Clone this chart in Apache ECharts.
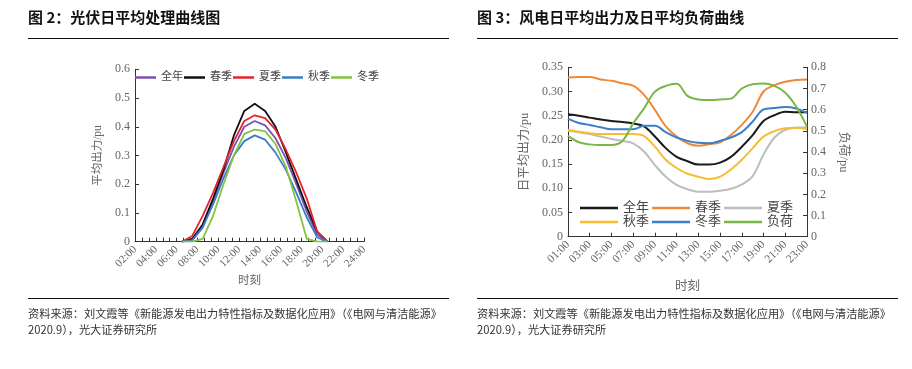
<!DOCTYPE html>
<html><head><meta charset="utf-8">
<script src="https://cdn.jsdelivr.net/npm/echarts@6/dist/echarts.min.js"></script>
<style>
html,body{margin:0;padding:0;background:#fff}
#wrap{position:relative;width:912px;height:369px;overflow:hidden}
#left{position:absolute;left:0;top:0;width:456px;height:369px}
#right{position:absolute;left:456px;top:0;width:456px;height:369px}
</style>
</head><body><div id="wrap"><div id="left"></div><div id="right"></div></div>
<script>
// ---- Figure 2 data (PV daily average output, pu) ----
const pvTitle = '图 2：光伏日平均处理曲线图';
const pvHours = [6.5, 7.5, 8.5, 9.5, 10.5, 11.5, 12.5, 13.5, 14.5, 15.5, 16.5, 17.5, 18.5, 19.5, 20.5];
const pvYear   = [0, 0.005, 0.05, 0.14, 0.24, 0.33, 0.40, 0.42, 0.405, 0.36, 0.29, 0.20, 0.105, 0.025, 0];
const pvSpring = [0, 0.01, 0.06, 0.15, 0.25, 0.37, 0.455, 0.48, 0.455, 0.40, 0.31, 0.215, 0.12, 0.035, 0];
const pvSummer = [0, 0.02, 0.09, 0.17, 0.26, 0.35, 0.42, 0.44, 0.43, 0.39, 0.32, 0.24, 0.15, 0.035, 0];
const pvAutumn = [0, 0.005, 0.05, 0.13, 0.22, 0.30, 0.35, 0.37, 0.355, 0.31, 0.25, 0.17, 0.085, 0.015, 0];
const pvWinter = [0, 0, 0.01, 0.09, 0.20, 0.30, 0.375, 0.39, 0.385, 0.34, 0.26, 0.14, 0.01, 0, 0];
const pvTickLabels = {min: 2, max: 24, step: 2};

// ---- Figure 3 data (wind daily average output & load, pu) ----
const windTitle = '图 3：风电日平均出力及日平均负荷曲线';
const windTimes = ['01:00','02:00','03:00','04:00','05:00','06:00','07:00','08:00','09:00','10:00','11:00','12:00',
                   '13:00','14:00','15:00','16:00','17:00','18:00','19:00','20:00','21:00','22:00','23:00'];
const windYear   = [0.253,0.250,0.246,0.242,0.239,0.237,0.234,0.228,0.207,0.183,0.165,0.156,0.149,0.149,0.153,0.165,0.186,0.210,0.239,0.251,0.258,0.257,0.257];
const windSpring = [0.329,0.330,0.330,0.325,0.322,0.317,0.312,0.293,0.262,0.228,0.207,0.193,0.188,0.191,0.195,0.210,0.231,0.258,0.300,0.313,0.320,0.324,0.325];
const windSummer = [0.219,0.216,0.212,0.207,0.202,0.198,0.193,0.176,0.148,0.124,0.107,0.098,0.093,0.093,0.095,0.099,0.108,0.125,0.170,0.205,0.221,0.225,0.226];
const windAutumn = [0.221,0.217,0.214,0.212,0.212,0.212,0.212,0.208,0.186,0.159,0.142,0.130,0.124,0.119,0.124,0.139,0.159,0.183,0.207,0.218,0.224,0.225,0.222];
const windWinter = [0.244,0.235,0.231,0.226,0.222,0.222,0.222,0.229,0.229,0.216,0.205,0.198,0.194,0.193,0.198,0.205,0.216,0.238,0.263,0.266,0.268,0.265,0.256];
const loadCurve  = [0.476,0.446,0.436,0.433,0.433,0.452,0.535,0.606,0.685,0.712,0.722,0.665,0.648,0.645,0.648,0.652,0.700,0.720,0.723,0.712,0.680,0.615,0.520];

const sourceLine1 = '资料来源：刘文霞等《新能源发电出力特性指标及数据化应用》（《电网与清洁能源》';
const sourceLine2 = '2020.9），光大证券研究所';

const SERIF = "'Liberation Serif','Noto Sans CJK SC',serif";
const SANS = "'Noto Sans CJK SC','Noto Sans',sans-serif";
const AXC = '#333';
const LBC = '#666';

function frame(x0, x1, title) {
  return [
    {type:'text', left:x0, top:10, style:{text:title, font:"bold 15px "+SANS, fill:'#111'}},
    {type:'line', shape:{x1:x0, y1:38.5, x2:x1, y2:38.5}, style:{stroke:'#111', lineWidth:1.2}},
    {type:'line', shape:{x1:x0, y1:298.5, x2:x1, y2:298.5}, style:{stroke:'#111', lineWidth:1.2}},
    {type:'text', left:x0, top:308, style:{text:sourceLine1, font:"11.2px "+SANS, fill:'#333'}},
    {type:'text', left:x0, top:324, style:{text:sourceLine2, font:"11.2px "+SANS, fill:'#333'}}
  ];
}

const pad2 = v => (v < 10 ? '0' : '') + v + ':00';

// ---------- left chart ----------
const pvNames = ['全年','春季','夏季','秋季','冬季'];
const pvColors = ['#7d4fb5','#111111','#e5242b','#3b7dc8','#84c341'];
const pvData = [pvYear, pvSpring, pvSummer, pvAutumn, pvWinter];

const leftChart = echarts.init(document.getElementById('left'), null, {renderer:'canvas'});
leftChart.setOption({
  animation:false,
  backgroundColor:'#fff',
  graphic: frame(28, 449, pvTitle),
  legend:{
    left:135, top:72, padding:0, itemGap:1, itemWidth:21, itemHeight:2.5, icon:'rect',
    selectedMode:false,
    data: pvNames,
    textStyle:{fontFamily:SERIF, fontSize:11, color:'#444'}
  },
  grid:{left:135, top:69.3, width:229, height:172.4, outerBoundsMode:'none'},
  xAxis:{
    type:'value', min:pvTickLabels.min, max:pvTickLabels.max, interval:pvTickLabels.step,
    name:'时刻', nameLocation:'middle', nameGap:34,
    nameTextStyle:{fontFamily:SERIF, fontSize:11.5, color:LBC},
    axisLine:{lineStyle:{color:AXC, width:1}},
    axisTick:{inside:true, length:4, lineStyle:{color:AXC}},
    minorTick:{show:true, splitNumber:3, length:4, lineStyle:{color:AXC}},
    splitLine:{show:false},
    axisLabel:{rotate:45, margin:6, fontFamily:SERIF, fontSize:11, color:LBC, formatter:v=>pad2(v), showMaxLabel:true, showMinLabel:true}
  },
  yAxis:{
    type:'value', min:0, max:0.6, interval:0.1,
    name:'平均出力/pu', nameLocation:'middle', nameGap:23, nameRotate:90,
    nameTextStyle:{fontFamily:SERIF, fontSize:11.5, color:LBC},
    axisLine:{show:true, lineStyle:{color:AXC, width:1}},
    axisTick:{show:true, inside:true, length:4, lineStyle:{color:AXC}},
    splitLine:{show:false},
    axisLabel:{margin:5, fontFamily:SERIF, fontSize:12, color:LBC, formatter:v=> v===0 ? '0' : v.toFixed(1)}
  },
  series: pvNames.map((n,i)=>({
    name:n, type:'line', symbol:'none', smooth:false,
    lineStyle:{width:1.8, color:pvColors[i]}, itemStyle:{color:pvColors[i]},
    data: pvHours.map((h,k)=>[h, pvData[i][k]])
  }))
});

// ---------- right chart ----------
const wNames = ['全年','春季','夏季','秋季','冬季','负荷'];
const wColors = ['#1a1a1a','#ee8a3a','#bdbdbd','#f7bd2e','#3c7ec7','#7ab648'];
const wData = [windYear, windSpring, windSummer, windAutumn, windWinter, loadCurve];

const rightChart = echarts.init(document.getElementById('right'), null, {renderer:'canvas'});
const legendCommon = {padding:0, itemGap:3, itemWidth:38, itemHeight:2.5, icon:'rect', selectedMode:false,
  textStyle:{fontFamily:SERIF, fontSize:13, color:'#444'}};
rightChart.setOption({
  animation:false,
  backgroundColor:'#fff',
  graphic: frame(21, 442, windTitle),
  legend:[
    Object.assign({left:124, top:201.5, data:wNames.slice(0,3)}, legendCommon),
    Object.assign({left:124, top:215.5, data:wNames.slice(3,6)}, legendCommon)
  ],
  grid:{left:112, top:67.3, width:239, height:169.4, outerBoundsMode:'none'},
  xAxis:{
    type:'category', data:windTimes, boundaryGap:false,
    name:'时刻', nameLocation:'middle', nameGap:44,
    nameTextStyle:{fontFamily:SERIF, fontSize:12.5, color:LBC},
    axisLine:{lineStyle:{color:AXC, width:1}},
    axisTick:{inside:true, length:4, interval:1, lineStyle:{color:AXC}},
    axisLabel:{rotate:45, margin:6, interval:1, fontFamily:SERIF, fontSize:11.5, color:LBC}
  },
  yAxis:[{
    type:'value', min:0, max:0.35, interval:0.05,
    name:'日平均出力/pu', nameLocation:'middle', nameGap:32, nameRotate:90,
    nameTextStyle:{fontFamily:SERIF, fontSize:12.5, color:LBC},
    axisLine:{show:true, lineStyle:{color:AXC, width:1}},
    axisTick:{show:true, inside:true, length:4, lineStyle:{color:AXC}},
    splitLine:{show:false},
    axisLabel:{margin:5, fontFamily:SERIF, fontSize:12, color:LBC, formatter:v=> v===0 ? '0' : v.toFixed(2)}
  },{
    type:'value', position:'right', min:0, max:0.8, interval:0.1,
    name:'负荷/pu', nameLocation:'middle', nameGap:26, nameRotate:-90,
    nameTextStyle:{fontFamily:SERIF, fontSize:12.5, color:LBC},
    axisLine:{show:true, lineStyle:{color:AXC, width:1}},
    axisTick:{show:true, inside:true, length:4, lineStyle:{color:AXC}},
    splitLine:{show:false},
    axisLabel:{margin:4, fontFamily:SERIF, fontSize:12, color:LBC, formatter:v=> v===0 ? '0' : v.toFixed(1)}
  }],
  series: wNames.map((n,i)=>({
    name:n, type:'line', symbol:'none', smooth:0.35, yAxisIndex: i===5 ? 1 : 0,
    lineStyle:{width:2, color:wColors[i]}, itemStyle:{color:wColors[i]},
    data: wData[i]
  }))
});
</script>
</body></html>
